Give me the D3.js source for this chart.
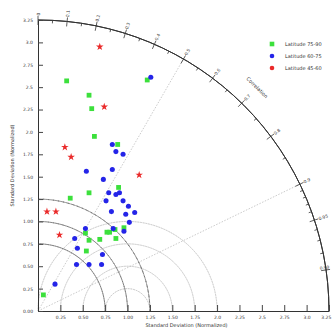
<!DOCTYPE html>
<html>
<head>
<meta charset="utf-8">
<script src="https://cdn.jsdelivr.net/npm/d3@7"></script>
<style>
  body { margin: 0; background: #fff; }
  text { font-family: "DejaVu Sans", sans-serif; }
</style>
</head>
<body>
<script>
// series values: [x, y] position in normalized std units (x = std*corr, y = std*sin)
const greenPts = [[0.32,2.57],[1.22,2.58],[0.57,2.41],[0.60,2.26],[0.63,1.95],[0.89,1.86],[0.90,1.38],
  [0.57,1.32],[0.36,1.26],[0.53,0.87],[0.57,0.79],[0.69,0.80],[0.77,0.88],[0.80,0.88],[0.86,0.91],
  [0.87,0.81],[0.96,0.93],[0.54,0.67],[0.06,0.18]];
const bluePts = [[1.26,2.61],[0.83,1.86],[0.87,1.78],[0.95,1.75],[0.54,1.56],[0.83,1.58],[0.73,1.47],
  [0.79,1.32],[0.87,1.30],[0.91,1.32],[0.76,1.23],[0.95,1.23],[1.01,1.17],[0.82,1.11],[0.98,1.08],
  [1.08,1.10],[1.02,0.99],[0.53,0.92],[0.84,0.92],[0.96,0.89],[0.41,0.81],[0.44,0.70],[0.72,0.63],
  [0.43,0.52],[0.57,0.52],[0.71,0.52],[0.19,0.30]];
const redPts = [[0.69,2.95],[0.74,2.28],[0.30,1.83],[0.37,1.72],[1.13,1.52],[0.10,1.11],[0.20,1.11],[0.24,0.85]];

const seriesNames = ['Latitude 75-90', 'Latitude 60-75', 'Latitude 45-60'];

// tick labels
const stdTicks = [0, 0.25, 0.5, 0.75, 1, 1.25, 1.5, 1.75, 2, 2.25, 2.5, 2.75, 3, 3.25];
const stdLabels = ['0.00','0.25','0.50','0.75','1.00','1.25','1.50','1.75','2.0','2.25','2.5','2.75','3.0','3.25'];
const corrMajor = [0, 0.1, 0.2, 0.3, 0.4, 0.5, 0.6, 0.7, 0.8, 0.9, 0.95, 0.99];
const corrMinor = [0.05, 0.15, 0.25, 0.35, 0.45, 0.55, 0.65, 0.75, 0.85, 0.91, 0.92, 0.93, 0.94, 0.96, 0.97, 0.98];
const stdArcs = [0.75, 1, 1.25];
const rmsArcs = [0.25, 0.5, 0.75, 1];
const corrLines = [0.5, 0.9];
const refStd = 1;
const maxStd = 3.25;

const W = 333, H = 333;
const ox = 38, oy = 311, R = 291;

const x = d3.scaleLinear().domain([0, maxStd]).range([ox, ox + R]);
const y = d3.scaleLinear().domain([0, maxStd]).range([oy, oy - R]);
const k = R / maxStd;

const svg = d3.select('body').append('svg')
  .attr('width', W)
  .attr('height', H);

// rms arcs around the reference point
const arc = d3.arc();
rmsArcs.forEach(r => {
  svg.append('path')
    .attr('transform', `translate(${x(refStd)},${y(0)})`)
    .attr('d', arc({innerRadius: r * k, outerRadius: r * k, startAngle: -Math.PI / 2, endAngle: Math.PI / 2}))
    .attr('fill', 'none')
    .attr('stroke', '#bdbdbd')
    .attr('stroke-width', 0.8)
    .attr('stroke-dasharray', '1.2,1.5');
});

// correlation lines
corrLines.forEach(c => {
  const t = Math.acos(c);
  svg.append('line')
    .attr('x1', x(0)).attr('y1', y(0))
    .attr('x2', x(maxStd * Math.cos(t))).attr('y2', y(maxStd * Math.sin(t)))
    .attr('stroke', '#bdbdbd')
    .attr('stroke-width', 0.8)
    .attr('stroke-dasharray', '1.5,1.5');
});

// std arcs around origin
stdArcs.forEach(s => {
  svg.append('path')
    .attr('transform', `translate(${x(0)},${y(0)})`)
    .attr('d', arc({innerRadius: s * k, outerRadius: s * k, startAngle: 0, endAngle: Math.PI / 2}))
    .attr('fill', 'none')
    .attr('stroke', '#777')
    .attr('stroke-width', 0.9)
    .attr('stroke-dasharray', '3,2');
});

// outer arc
svg.append('path')
  .attr('transform', `translate(${x(0)},${y(0)})`)
  .attr('d', arc({innerRadius: R, outerRadius: R, startAngle: 0, endAngle: Math.PI / 2}))
  .attr('fill', 'none')
  .attr('stroke', '#333')
  .attr('stroke-width', 1);

const tickG = svg.append('g').attr('stroke', '#333').attr('stroke-width', 0.8);
corrMinor.forEach(c => {
  const t = Math.acos(c);
  tickG.append('line')
    .attr('x1', ox + (R - 3) * Math.cos(t)).attr('y1', oy - (R - 3) * Math.sin(t))
    .attr('x2', ox + R * Math.cos(t)).attr('y2', oy - R * Math.sin(t));
});
corrMajor.forEach(c => {
  const t = Math.acos(c);
  tickG.append('line')
    .attr('x1', ox + (R - 5) * Math.cos(t)).attr('y1', oy - (R - 5) * Math.sin(t))
    .attr('x2', ox + (R + 4) * Math.cos(t)).attr('y2', oy - (R + 4) * Math.sin(t));
  // the last label would leave the window, so it sits over the arc
  const lr = c === 0.99 ? R - 6 : R + 4.5;
  const lx = ox + lr * Math.cos(t), ly = oy - lr * Math.sin(t);
  svg.append('text')
    .attr('transform', `translate(${lx},${ly}) rotate(${-t * 180 / Math.PI})`)
    .attr('dy', c === 0.99 ? '-0.25em' : '0.35em')
    .style('font-size', '4.3px')
    .attr('fill', '#333')
    .text(c);
});

// correlation label
{
  const t = Math.acos(0.70);
  const rr = R + 22;
  svg.append('text')
    .attr('transform', `translate(${ox + rr * Math.cos(t)},${oy - rr * Math.sin(t)}) rotate(${90 - t * 180 / Math.PI})`)
    .attr('text-anchor', 'middle')
    .attr('dy', '0.35em')
    .style('font-size', '5px')
    .attr('fill', '#333')
    .text('Correlation');
}

// axes
const xAxis = svg.append('g')
  .attr('transform', `translate(0,${oy})`)
  .call(d3.axisBottom(x)
    .tickValues(stdTicks.slice(1))
    .tickFormat((d, i) => stdLabels[i + 1])
    .tickSize(-6).tickSizeOuter(0).tickPadding(5));
const yAxis = svg.append('g')
  .attr('transform', `translate(${ox},0)`)
  .call(d3.axisLeft(y)
    .tickValues(stdTicks)
    .tickFormat((d, i) => stdLabels[i])
    .tickSize(-5).tickSizeOuter(0).tickPadding(5));
[xAxis, yAxis].forEach(a => {
  a.selectAll('text').style('font-size', '4.5px').attr('fill', '#333').style('font-family', '"DejaVu Sans", sans-serif');
  a.selectAll('line').attr('stroke', '#444');
  a.select('.domain').attr('stroke', '#333');
});
// keep the last x label inside the window
xAxis.selectAll('.tick text').filter(d => d === maxStd).attr('text-anchor', 'end').attr('dx', '0.4em');

svg.append('text')
  .attr('x', (ox + ox + R) / 2 + 3)
  .attr('y', 327)
  .attr('text-anchor', 'middle')
  .style('font-size', '5px')
  .attr('fill', '#333')
  .text('Standard Deviation (Normalized)');

svg.append('text')
  .attr('transform', `translate(14,${(oy + oy - R) / 2}) rotate(-90)`)
  .attr('text-anchor', 'middle')
  .style('font-size', '5px')
  .attr('fill', '#333')
  .text('Standard Deviation (Normalized)');

// points
const greenCol = '#3ce03c', blueCol = '#2424e8', redCol = '#ea2a2a';

svg.append('g').selectAll('rect')
  .data(greenPts)
  .enter().append('rect')
  .attr('x', d => x(d[0]) - 2.4)
  .attr('y', d => y(d[1]) - 2.4)
  .attr('width', 4.8)
  .attr('height', 4.8)
  .attr('fill', greenCol);

svg.append('g').selectAll('path')
  .data(bluePts)
  .enter().append('path')
  .attr('transform', d => `translate(${x(d[0])},${y(d[1])})`)
  .attr('d', d3.symbol(d3.symbolCircle, 20))
  .attr('fill', blueCol);

svg.append('g').selectAll('path')
  .data(redPts)
  .enter().append('path')
  .attr('transform', d => `translate(${x(d[0])},${y(d[1])})`)
  .attr('d', d3.symbol(d3.symbolStar, 18))
  .attr('fill', redCol);

// legend
const legend = svg.append('g').attr('transform', 'translate(272,44)');
const legCols = [greenCol, blueCol, redCol];
seriesNames.forEach((name, i) => {
  const g = legend.append('g').attr('transform', `translate(0,${i * 12})`);
  if (i === 0) {
    g.append('rect').attr('x', -2.3).attr('y', -2.3).attr('width', 4.6).attr('height', 4.6).attr('fill', legCols[i]);
  } else {
    g.append('circle').attr('r', 2.3).attr('fill', legCols[i]);
  }
  g.append('text')
    .attr('x', 13)
    .attr('dy', '0.35em')
    .style('font-size', '5px')
    .attr('fill', '#333')
    .text(name);
});
</script>
</body>
</html>
